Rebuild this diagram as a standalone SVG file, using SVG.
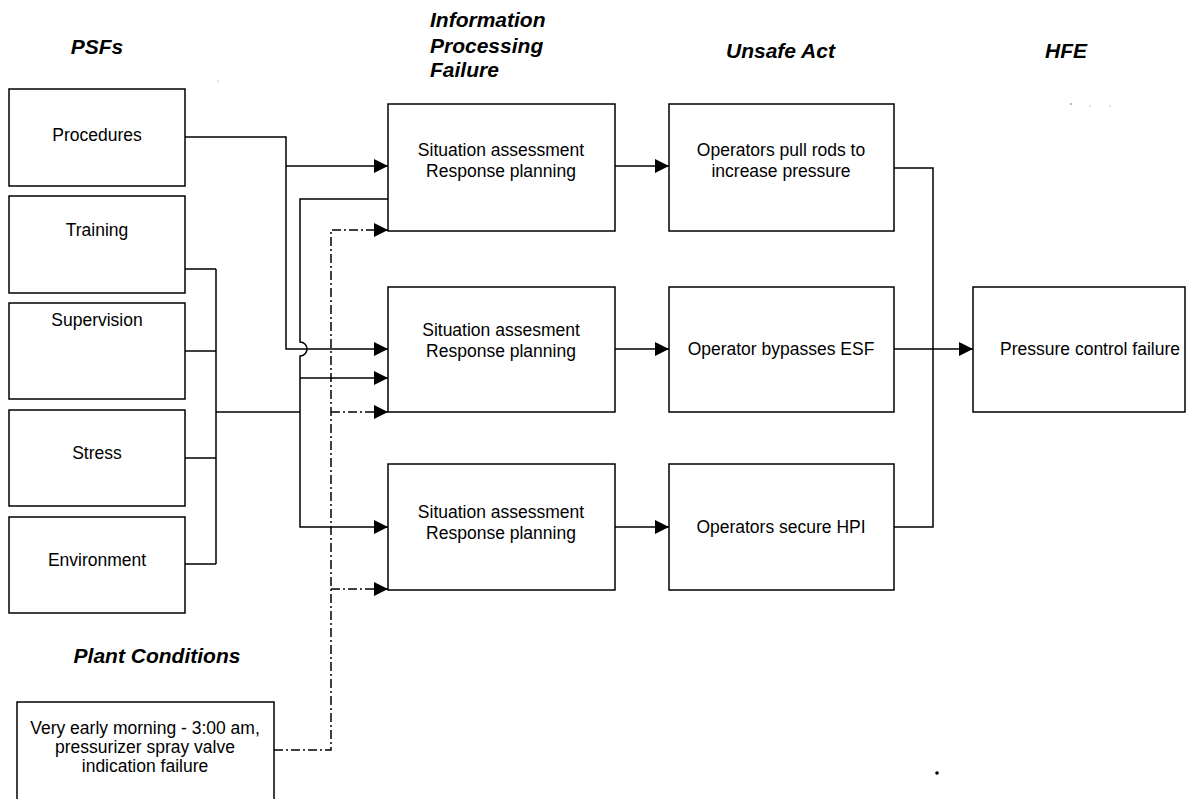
<svg xmlns="http://www.w3.org/2000/svg" width="1187" height="799" viewBox="0 0 1187 799">
  <defs>
    <marker id="arrow" markerUnits="userSpaceOnUse" markerWidth="15" markerHeight="14" refX="14" refY="7" orient="auto">
      <path d="M0,0 L14,7 L0,14 z" fill="#000"/>
    </marker>
    <style>
      .box { fill: #fff; stroke: #000; stroke-width: 1.5; }
      .lbl { font-family: "Liberation Sans", Arial, sans-serif; font-size: 17.5px; fill: #000; text-anchor: middle; }
      .title { font-family: "Liberation Sans", Arial, sans-serif; font-size: 21px; font-weight: bold; font-style: italic; fill: #000; }
      .wire { fill: none; stroke: #000; stroke-width: 1.5; }
      .dashdot { fill: none; stroke: #000; stroke-width: 1.5; stroke-dasharray: 9 3 2 3; }
      .arr { marker-end: url(#arrow); }
    </style>
  </defs>
  <rect width="1187" height="799" fill="#fff"/>

  <!-- column headings -->
  <g id="headings">
    <text class="title" x="97" y="54" text-anchor="middle">PSFs</text>
    <text class="title" x="430" y="27">Information</text>
    <text class="title" x="430" y="53">Processing</text>
    <text class="title" x="430" y="77">Failure</text>
    <text class="title" x="726" y="58">Unsafe Act</text>
    <text class="title" x="1045" y="58">HFE</text>
    <text class="title" x="157" y="663" text-anchor="middle">Plant Conditions</text>
  </g>

  <!-- performance shaping factors -->
  <g id="psf-procedures">
    <rect class="box" x="9" y="89" width="176" height="97"/>
    <text class="lbl" x="97" y="141">Procedures</text>
  </g>
  <g id="psf-training">
    <rect class="box" x="9" y="196" width="176" height="97"/>
    <text class="lbl" x="97" y="236">Training</text>
  </g>
  <g id="psf-supervision">
    <rect class="box" x="9" y="303" width="176" height="96"/>
    <text class="lbl" x="97" y="326">Supervision</text>
  </g>
  <g id="psf-stress">
    <rect class="box" x="9" y="410" width="176" height="96"/>
    <text class="lbl" x="97" y="459">Stress</text>
  </g>
  <g id="psf-environment">
    <rect class="box" x="9" y="517" width="176" height="96"/>
    <text class="lbl" x="97" y="566">Environment</text>
  </g>

  <!-- plant conditions -->
  <g id="plant-conditions">
    <rect class="box" x="17" y="702" width="257" height="110"/>
    <text class="lbl" x="145" y="734">Very early morning - 3:00 am,</text>
    <text class="lbl" x="145" y="753">pressurizer spray valve</text>
    <text class="lbl" x="145" y="772">indication failure</text>
  </g>

  <!-- information processing failures -->
  <g id="ipf-1">
    <rect class="box" x="388" y="104" width="227" height="127"/>
    <text class="lbl" x="501" y="156">Situation assessment</text>
    <text class="lbl" x="501" y="177">Response planning</text>
  </g>
  <g id="ipf-2">
    <rect class="box" x="388" y="287" width="227" height="125"/>
    <text class="lbl" x="501" y="336">Situation assesment</text>
    <text class="lbl" x="501" y="357">Response planning</text>
  </g>
  <g id="ipf-3">
    <rect class="box" x="388" y="464" width="227" height="126"/>
    <text class="lbl" x="501" y="518">Situation assessment</text>
    <text class="lbl" x="501" y="539">Response planning</text>
  </g>

  <!-- unsafe acts -->
  <g id="ua-1">
    <rect class="box" x="669" y="104" width="225" height="127"/>
    <text class="lbl" x="781" y="156">Operators pull rods to</text>
    <text class="lbl" x="781" y="177">increase pressure</text>
  </g>
  <g id="ua-2">
    <rect class="box" x="669" y="287" width="225" height="125"/>
    <text class="lbl" x="781" y="355">Operator bypasses ESF</text>
  </g>
  <g id="ua-3">
    <rect class="box" x="669" y="464" width="225" height="126"/>
    <text class="lbl" x="781" y="533">Operators secure HPI</text>
  </g>

  <!-- human failure event -->
  <g id="hfe">
    <rect class="box" x="973" y="287" width="212" height="125"/>
    <text class="lbl" x="1090" y="355">Pressure control failure</text>
  </g>

  <!-- connectors -->
  <g id="connectors">
    <!-- procedures -->
    <path class="wire arr" d="M185,137 H286 V349 H388"/>
    <path class="wire arr" d="M286,166 H388"/>
    <!-- training / supervision / stress / environment bus -->
    <path class="wire" d="M185,269 H216 M185,351 H216 M185,458 H216 M185,564 H216 M216,269 V564"/>
    <path class="wire" d="M216,412 H300"/>
    <!-- combined PSF feed, hopping over the procedures line -->
    <path class="wire" d="M388,199 H300 V342 A7,7 0 0 1 300,356 V527 H388" style="marker-end:url(#arrow)"/>
    <path class="wire arr" d="M300,378 H388"/>
    <!-- plant conditions -->
    <path class="dashdot arr" d="M274,750 H331 V230 H388"/>
    <path class="dashdot arr" d="M331,412 H388"/>
    <path class="dashdot arr" d="M331,589 H388"/>
    <!-- information processing to unsafe acts -->
    <path class="wire arr" d="M615,166 H669"/>
    <path class="wire arr" d="M615,349 H669"/>
    <path class="wire arr" d="M615,527 H669"/>
    <!-- unsafe acts to HFE -->
    <path class="wire" d="M894,168 H933 V527 H894"/>
    <path class="wire arr" d="M894,349 H973"/>
  </g>

  <!-- specks -->
  <g id="specks" fill="#000">
    <circle cx="937" cy="773" r="1.8"/>
    <circle cx="1071" cy="104" r="0.8" opacity="0.6"/>
    <circle cx="1090" cy="106" r="0.6" opacity="0.5"/>
    <circle cx="1110" cy="106" r="0.6" opacity="0.5"/>
    <circle cx="218" cy="81" r="0.6" opacity="0.5"/>
  </g>
</svg>
